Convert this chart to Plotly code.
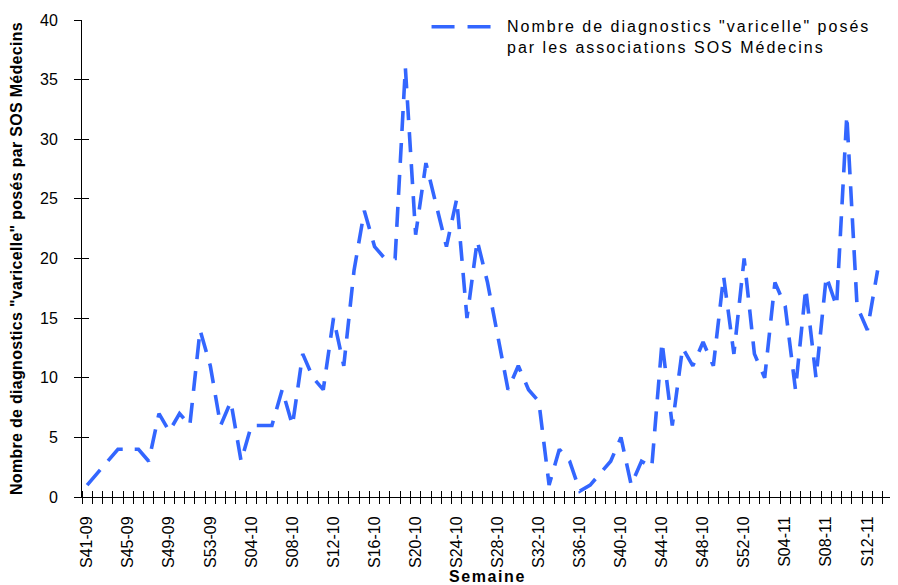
import plotly.graph_objects as go

# Week labels (categories) : S41-09 ... S14-11
weeks = ([f"S{w:02d}-09" for w in range(41, 54)]
         + [f"S{w:02d}-10" for w in range(1, 53)]
         + [f"S{w:02d}-11" for w in range(1, 15)])

# Weekly number of "varicelle" diagnoses (SOS Médecins)
values = [1, 2, 3, 4, 4, 4, 3, 7, 5.5, 7,
          6, 14, 11, 6, 8, 3, 6, 6, 6, 9,
          6, 12, 10, 9, 15, 11, 19, 24, 21, 20,
          20, 36, 22, 28, 24.5, 21, 25, 15, 21.5, 18,
          13.5, 9, 11, 9, 8, 1, 4, 3, 0.5, 1,
          2, 3, 5, 1, 3, 2.5, 13, 6, 12.5, 11,
          13, 11, 18.5, 12, 20, 12, 10, 18, 16, 9,
          17.5, 10, 18.5, 16, 32, 16, 14, 19]

tick_step = 4
tick_idx = list(range(0, len(weeks), tick_step))
tick_text = [weeks[i] for i in tick_idx]

legend_text = 'Nombre de diagnostics "varicelle" posés<br>par les associations SOS Médecins'
y_title = 'Nombre de diagnostics "varicelle" posés par SOS Médecins'
x_title = 'Semaine'

FONT = "Liberation Sans, Arial, sans-serif"
BLUE = "#3366FF"

fig = go.Figure()
fig.add_trace(go.Scatter(
    x=list(range(len(values))), y=values, mode="lines",
    line=dict(color=BLUE, width=3.6, dash="20px,12px"),
    showlegend=False, hoverinfo="x+y",
))

# the page body adds an 8px offset, so the figure is drawn 8px smaller
xr = [-0.5, len(weeks) - 0.5]
fig.update_layout(
    width=890, height=577,
    margin=dict(l=74, r=5, t=12, b=88, autoexpand=False),
    paper_bgcolor="white", plot_bgcolor="white",
    font=dict(family=FONT, size=16, color="black"),
    showlegend=False,
    xaxis=dict(
        range=xr, showgrid=False, zeroline=False, automargin=False,
        showline=True, linecolor="black", linewidth=1,
        tickmode="array", tickvals=tick_idx, ticktext=tick_text,
        tickangle=-90, ticks="", ticklabelstandoff=12,
        tickfont=dict(family=FONT, size=16),
        minor=dict(ticks="outside", ticklen=6, tickwidth=1, tickcolor="black",
                   tick0=-0.5, dtick=1, showgrid=False),
        title=dict(text=x_title, font=dict(family=FONT, size=16, weight="bold"), standoff=3),
    ),
    xaxis2=dict(
        range=xr, overlaying="x", side="bottom", anchor="y", automargin=False,
        showgrid=False, zeroline=False, showline=False, showticklabels=False,
        tickmode="array", tickvals=[], ticks="",
        minor=dict(ticks="inside", ticklen=6, tickwidth=1, tickcolor="black",
                   tick0=-0.5, dtick=1, showgrid=False),
    ),
    yaxis=dict(
        range=[0, 40], dtick=5, showgrid=False, zeroline=False, automargin=False,
        showline=True, linecolor="black", linewidth=1,
        ticks="outside", ticklen=7, tickcolor="black",
        ticklabelstandoff=13,
        tickfont=dict(family=FONT, size=16),
        title=dict(text=y_title, font=dict(family=FONT, size=16, weight="bold"), standoff=14),
    ),
    yaxis2=dict(
        range=[0, 40], dtick=5, overlaying="y", side="left", anchor="x", automargin=False,
        showgrid=False, zeroline=False, showline=False, showticklabels=False,
        ticks="inside", ticklen=7, tickcolor="black",
    ),
)

# Legend drawn as sample line + text
fig.add_shape(type="line", xref="paper", yref="paper",
              x0=0.431, x1=0.505, y0=0.986, y1=0.986,
              line=dict(color=BLUE, width=3.6, dash="23px,13px"))
fig.add_annotation(xref="paper", yref="paper", x=0.5216, y=0.9654,
                   xanchor="left", yanchor="middle", align="left",
                   text=legend_text, showarrow=False,
                   font=dict(family=FONT, size=16, color="black"))

# invisible trace so the overlay axes (crossing tick marks) are drawn
fig.add_trace(go.Scatter(x=[None], y=[None], xaxis="x2", yaxis="y2",
                         showlegend=False, hoverinfo="skip"))

spacing_js = """
var gd = document.getElementById('{plot_id}');
function spaceText(){
  gd.querySelectorAll('.annotation-text').forEach(function(e){ e.style.letterSpacing = '2.0px'; });
  gd.querySelectorAll('.xtitle').forEach(function(e){ e.style.letterSpacing = '1.6px'; });
  gd.querySelectorAll('.ytitle').forEach(function(e){ e.style.letterSpacing = '0.3px'; });
}
spaceText();
gd.on('plotly_afterplot', spaceText);
"""

fig.write_html("out.html", post_script=spacing_js)
